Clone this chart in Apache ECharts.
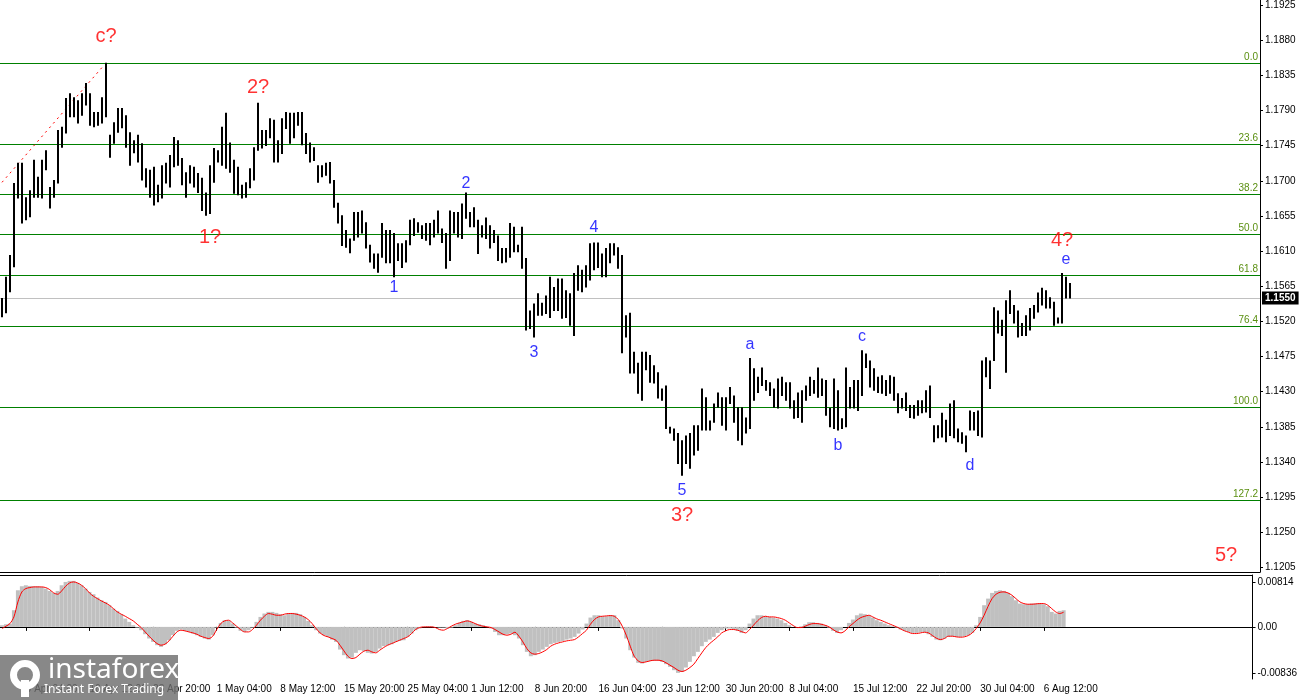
<!DOCTYPE html>
<html><head><meta charset="utf-8">
<script src="https://cdn.jsdelivr.net/npm/echarts@6/dist/echarts.min.js"></script>
<style>html,body{margin:0;padding:0;background:#fff}#c{width:1300px;height:700px}</style>
</head><body><div id="c"></div>
<script>
// ---- price bars (each bar: high / low) ----
const highs = [
1.1550,1.1577,1.1605,1.1697,1.1723,1.1723,1.1679,1.1688,1.1727,1.1705,
1.1727,1.1739,1.1692,1.1701,1.1765,1.1769,1.1806,1.1812,1.1807,1.1803,
1.1812,1.1825,1.1812,1.1788,1.1788,1.1807,1.1851,1.1759,1.1775,1.1793,
1.1793,1.1784,1.1762,1.1752,1.1759,1.1748,1.1716,1.1714,1.1718,1.1695,
1.1720,1.1723,1.1733,1.1756,1.1752,1.1729,1.1711,1.1720,1.1718,1.1710,
1.1704,1.1685,1.1720,1.1742,1.1739,1.1769,1.1787,1.1749,1.1727,1.1718,
1.1695,1.1698,1.1716,1.1743,1.1800,1.1765,1.1765,1.1780,1.1778,1.1752,
1.1780,1.1788,1.1787,1.1787,1.1788,1.1788,1.1761,1.1749,1.1743,1.1720,
1.1720,1.1723,1.1724,1.1701,1.1672,1.1656,1.1637,1.1626,1.1660,1.1660,
1.1662,1.1647,1.1618,1.1607,1.1607,1.1646,1.1637,1.1637,1.1633,1.1620,
1.1620,1.1624,1.1650,1.1652,1.1647,1.1643,1.1646,1.1646,1.1650,1.1662,
1.1639,1.1633,1.1662,1.1660,1.1660,1.1671,1.1685,1.1660,1.1666,1.1650,
1.1643,1.1653,1.1643,1.1637,1.1630,1.1614,1.1614,1.1646,1.1641,1.1618,
1.1641,1.1601,1.1534,1.1543,1.1556,1.1544,1.1553,1.1577,1.1564,1.1575,
1.1575,1.1560,1.1556,1.1582,1.1592,1.1586,1.1592,1.1620,1.1621,1.1621,
1.1607,1.1614,1.1620,1.1620,1.1615,1.1605,1.1528,1.1531,1.1481,1.1467,
1.1481,1.1481,1.1477,1.1464,1.1455,1.1434,1.1438,1.1385,1.1383,1.1377,
1.1368,1.1374,1.1377,1.1387,1.1387,1.1434,1.1423,1.1393,1.1415,1.1429,
1.1423,1.1423,1.1436,1.1425,1.1410,1.1410,1.1397,1.1473,1.1460,1.1449,
1.1461,1.1445,1.1442,1.1434,1.1447,1.1449,1.1442,1.1442,1.1419,1.1429,
1.1432,1.1438,1.1449,1.1445,1.1461,1.1447,1.1445,1.1409,1.1447,1.1432,
1.1396,1.1461,1.1436,1.1445,1.1445,1.1483,1.1479,1.1470,1.1460,1.1449,
1.1451,1.1445,1.1451,1.1449,1.1428,1.1422,1.1429,1.1413,1.1413,1.1419,
1.1419,1.1432,1.1438,1.1387,1.1387,1.1403,1.1394,1.1415,1.1419,1.1383,
1.1378,1.1374,1.1406,1.1404,1.1406,1.1470,1.1474,1.1470,1.1538,1.1534,
1.1522,1.1547,1.1560,1.1541,1.1534,1.1518,1.1528,1.1537,1.1541,1.1557,
1.1563,1.1560,1.1551,1.1545,1.1525,1.1582,1.1577,1.1569
];
const lows = [
1.1526,1.1531,1.1558,1.1590,1.1678,1.1646,1.1650,1.1654,1.1679,1.1679,
1.1678,1.1714,1.1665,1.1679,1.1697,1.1743,1.1761,1.1782,1.1782,1.1774,
1.1784,1.1797,1.1771,1.1769,1.1771,1.1774,1.1782,1.1730,1.1748,1.1762,
1.1768,1.1743,1.1720,1.1736,1.1724,1.1701,1.1692,1.1679,1.1669,1.1673,
1.1678,1.1697,1.1692,1.1718,1.1720,1.1695,1.1679,1.1697,1.1692,1.1685,
1.1662,1.1656,1.1658,1.1698,1.1724,1.1720,1.1716,1.1711,1.1684,1.1682,
1.1678,1.1679,1.1691,1.1701,1.1739,1.1742,1.1745,1.1755,1.1724,1.1724,
1.1735,1.1767,1.1748,1.1755,1.1771,1.1746,1.1735,1.1724,1.1726,1.1698,
1.1705,1.1707,1.1697,1.1666,1.1646,1.1617,1.1615,1.1608,1.1624,1.1628,
1.1633,1.1614,1.1596,1.1588,1.1583,1.1602,1.1595,1.1595,1.1577,1.1598,
1.1589,1.1596,1.1618,1.1630,1.1634,1.1626,1.1624,1.1618,1.1628,1.1633,
1.1621,1.1588,1.1598,1.1633,1.1628,1.1626,1.1652,1.1641,1.1641,1.1607,
1.1628,1.1626,1.1614,1.1621,1.1598,1.1595,1.1596,1.1602,1.1609,1.1609,
1.1588,1.1509,1.1511,1.1500,1.1528,1.1528,1.1530,1.1525,1.1534,1.1534,
1.1524,1.1525,1.1515,1.1502,1.1560,1.1558,1.1564,1.1573,1.1586,1.1589,
1.1577,1.1577,1.1595,1.1605,1.1588,1.1480,1.1500,1.1454,1.1454,1.1428,
1.1419,1.1458,1.1442,1.1441,1.1422,1.1419,1.1383,1.1377,1.1368,1.1338,
1.1323,1.1338,1.1332,1.1349,1.1355,1.1381,1.1381,1.1381,1.1391,1.1410,
1.1387,1.1381,1.1415,1.1391,1.1368,1.1362,1.1377,1.1383,1.1419,1.1429,
1.1438,1.1432,1.1425,1.1410,1.1409,1.1425,1.1419,1.1409,1.1396,1.1397,
1.1391,1.1419,1.1425,1.1428,1.1423,1.1425,1.1400,1.1385,1.1383,1.1381,
1.1383,1.1385,1.1409,1.1409,1.1406,1.1425,1.1461,1.1436,1.1432,1.1429,
1.1428,1.1425,1.1428,1.1419,1.1403,1.1409,1.1406,1.1397,1.1396,1.1400,
1.1403,1.1404,1.1397,1.1366,1.1371,1.1372,1.1366,1.1374,1.1371,1.1366,
1.1364,1.1353,1.1381,1.1381,1.1374,1.1372,1.1449,1.1434,1.1470,1.1505,
1.1502,1.1455,1.1530,1.1518,1.1500,1.1502,1.1502,1.1509,1.1524,1.1532,
1.1541,1.1537,1.1537,1.1515,1.1518,1.1518,1.1550,1.1550
];
// ---- MACD sub-window ----
const macdHist = [
0.00030,0.00048,0.00060,0.00302,0.00664,0.00737,0.00755,0.00743,0.00737,0.00737,
0.00725,0.00695,0.00652,0.00616,0.00652,0.00755,0.00815,0.00834,0.00834,0.00797,
0.00755,0.00695,0.00634,0.00592,0.00532,0.00483,0.00453,0.00393,0.00332,0.00290,
0.00230,0.00151,0.00091,0.00030,-0.00012,-0.00060,-0.00133,-0.00211,-0.00272,-0.00332,
-0.00362,-0.00314,-0.00242,-0.00151,-0.00072,-0.00048,-0.00072,-0.00091,-0.00121,-0.00151,
-0.00181,-0.00211,-0.00230,-0.00151,-0.00012,0.00072,0.00121,0.00109,0.00060,-0.00012,
-0.00072,-0.00091,-0.00060,-0.00012,0.00091,0.00181,0.00242,0.00272,0.00272,0.00254,
0.00230,0.00211,0.00242,0.00254,0.00254,0.00230,0.00181,0.00109,0.00030,-0.00060,
-0.00121,-0.00151,-0.00181,-0.00230,-0.00272,-0.00411,-0.00513,-0.00574,-0.00556,-0.00471,
-0.00423,-0.00435,-0.00471,-0.00483,-0.00453,-0.00393,-0.00350,-0.00332,-0.00314,-0.00272,
-0.00254,-0.00242,-0.00181,-0.00121,-0.00060,-0.00030,0.00000,0.00012,0.00012,0.00000,
-0.00012,-0.00012,-0.00030,-0.00012,0.00030,0.00072,0.00109,0.00121,0.00091,0.00060,
0.00048,0.00030,0.00000,-0.00030,-0.00091,-0.00151,-0.00151,-0.00133,-0.00121,-0.00151,
-0.00211,-0.00332,-0.00453,-0.00532,-0.00513,-0.00453,-0.00411,-0.00362,-0.00314,-0.00290,
-0.00272,-0.00254,-0.00230,-0.00211,-0.00181,-0.00121,-0.00048,0.00060,0.00169,0.00211,
0.00211,0.00193,0.00193,0.00211,0.00211,0.00121,-0.00030,-0.00211,-0.00423,-0.00556,
-0.00652,-0.00664,-0.00634,-0.00616,-0.00616,-0.00616,-0.00634,-0.00676,-0.00725,-0.00785,
-0.00834,-0.00815,-0.00737,-0.00634,-0.00532,-0.00453,-0.00350,-0.00272,-0.00230,-0.00181,
-0.00109,-0.00060,-0.00030,-0.00030,-0.00048,-0.00072,-0.00109,-0.00060,0.00060,0.00151,
0.00211,0.00211,0.00193,0.00181,0.00169,0.00151,0.00121,0.00072,0.00030,0.00000,
0.00000,0.00012,0.00048,0.00085,0.00085,0.00072,0.00060,0.00030,-0.00012,-0.00072,
-0.00109,-0.00060,0.00000,0.00072,0.00133,0.00211,0.00242,0.00230,0.00211,0.00169,
0.00121,0.00091,0.00060,0.00030,0.00012,-0.00012,-0.00048,-0.00072,-0.00091,-0.00109,
-0.00109,-0.00097,-0.00097,-0.00133,-0.00181,-0.00230,-0.00242,-0.00211,-0.00181,-0.00169,
-0.00181,-0.00181,-0.00169,-0.00151,-0.00109,0.00030,0.00181,0.00393,0.00513,0.00616,
0.00652,0.00664,0.00652,0.00616,0.00556,0.00483,0.00423,0.00411,0.00411,0.00423,
0.00423,0.00423,0.00411,0.00374,0.00272,0.00242,0.00290,0.00302
];
const macdSignal = [
-0.00030,0.00012,0.00060,0.00181,0.00453,0.00634,0.00695,0.00713,0.00725,0.00725,
0.00725,0.00713,0.00676,0.00616,0.00592,0.00652,0.00737,0.00797,0.00815,0.00797,
0.00755,0.00695,0.00616,0.00556,0.00513,0.00471,0.00435,0.00393,0.00332,0.00272,
0.00230,0.00193,0.00151,0.00109,0.00048,-0.00012,-0.00091,-0.00169,-0.00242,-0.00302,
-0.00332,-0.00314,-0.00254,-0.00169,-0.00091,-0.00060,-0.00072,-0.00091,-0.00109,-0.00133,
-0.00169,-0.00193,-0.00211,-0.00169,-0.00048,0.00060,0.00109,0.00121,0.00072,0.00012,
-0.00048,-0.00091,-0.00091,-0.00048,0.00030,0.00121,0.00193,0.00242,0.00230,0.00211,
0.00211,0.00230,0.00242,0.00242,0.00230,0.00211,0.00181,0.00133,0.00060,-0.00030,
-0.00109,-0.00157,-0.00181,-0.00211,-0.00242,-0.00332,-0.00435,-0.00532,-0.00574,-0.00556,
-0.00495,-0.00441,-0.00423,-0.00453,-0.00471,-0.00423,-0.00374,-0.00332,-0.00302,-0.00272,
-0.00242,-0.00211,-0.00181,-0.00121,-0.00048,-0.00012,0.00000,0.00000,0.00000,-0.00012,
-0.00048,-0.00060,-0.00030,0.00012,0.00048,0.00072,0.00091,0.00109,0.00091,0.00060,
0.00030,0.00012,0.00000,-0.00012,-0.00048,-0.00091,-0.00133,-0.00151,-0.00133,-0.00097,
-0.00169,-0.00272,-0.00393,-0.00471,-0.00495,-0.00483,-0.00453,-0.00411,-0.00350,-0.00314,
-0.00290,-0.00272,-0.00254,-0.00242,-0.00230,-0.00181,-0.00121,-0.00060,0.00048,0.00133,
0.00181,0.00193,0.00199,0.00205,0.00193,0.00133,0.00012,-0.00151,-0.00350,-0.00532,
-0.00616,-0.00646,-0.00634,-0.00616,-0.00604,-0.00604,-0.00616,-0.00652,-0.00695,-0.00737,
-0.00785,-0.00809,-0.00785,-0.00737,-0.00676,-0.00574,-0.00471,-0.00374,-0.00302,-0.00242,
-0.00181,-0.00109,-0.00072,-0.00048,-0.00048,-0.00060,-0.00085,-0.00109,-0.00048,0.00030,
0.00109,0.00169,0.00193,0.00181,0.00181,0.00169,0.00151,0.00121,0.00072,0.00024,
-0.00012,-0.00012,0.00012,0.00042,0.00060,0.00060,0.00048,0.00030,0.00000,-0.00048,
-0.00091,-0.00109,-0.00072,0.00000,0.00060,0.00121,0.00169,0.00193,0.00211,0.00181,
0.00145,0.00121,0.00091,0.00060,0.00030,0.00000,-0.00036,-0.00072,-0.00097,-0.00121,
-0.00121,-0.00109,-0.00097,-0.00109,-0.00157,-0.00205,-0.00230,-0.00211,-0.00169,-0.00169,
-0.00181,-0.00187,-0.00181,-0.00157,-0.00109,-0.00030,0.00072,0.00211,0.00374,0.00513,
0.00592,0.00628,0.00634,0.00616,0.00574,0.00513,0.00453,0.00423,0.00411,0.00411,
0.00417,0.00423,0.00423,0.00393,0.00332,0.00272,0.00242,0.00266
];
// ---- levels, ticks, labels ----
const fibLevels = [
  {name:'0.0', value:1.1851},{name:'23.6', value:1.1747},{name:'38.2', value:1.1683},
  {name:'50.0', value:1.1631},{name:'61.8', value:1.1579},{name:'76.4', value:1.1514},
  {name:'100.0', value:1.1410},{name:'127.2', value:1.1291}
];
const currentPrice = 1.1550;
const priceTicks = [1.1205,1.1250,1.1295,1.1340,1.1385,1.1430,1.1475,1.1520,1.1565,1.1610,1.1655,1.1700,1.1745,1.1790,1.1835,1.1880,1.1925];
const macdTicks = [0.00814, 0, -0.00836];
const timeLabels = ['9 Apr 04:00','16 Apr 12:00','23 Apr 20:00','1 May 04:00','8 May 12:00','15 May 20:00','25 May 04:00','1 Jun 12:00','8 Jun 20:00','16 Jun 04:00','23 Jun 12:00','30 Jun 20:00','8 Jul 04:00','15 Jul 12:00','22 Jul 20:00','30 Jul 04:00','6 Aug 12:00'];
const timeLabelIndex = [6,22,38,54,70,86,102,118,134,150,166,182,198,214,230,246,262];
const trendLine = [[0,1.1698],[25,1.1845]];
const redLabels = [['c?',26,1.1885],['2?',64,1.1819],['1?',51.5,1.1628],['3?',170,1.1272],['4?',265,1.1623],['5?',306,1.1220]];
const blueLabels = [['1',98,1.1563],['2',116,1.1697],['3',133,1.1480],['4',148,1.1640],['5',170,1.1304],['a',187,1.1490],['b',209,1.1361],['c',215,1.1500],['d',242,1.1335],['e',265.5,1.1599]];

const N = 315;
const categories = Array.from({length:N}, (_, i) => String(i));
const labelMap = {};
timeLabelIndex.forEach((idx, j) => { labelMap[idx] = timeLabels[j]; });

const chart = echarts.init(document.getElementById('c'), null, {renderer:'canvas'});
const font = 'Liberation Sans, Arial, sans-serif';

chart.setOption({
  animation: false,
  backgroundColor: '#fff',
  grid: [
    {left:0, right:40, top:0, height:572, show:false},
    {left:0, right:40, top:575, height:104, show:false}
  ],
  xAxis: [
    {type:'category', gridIndex:0, data:categories, boundaryGap:true,
     axisLine:{show:true, lineStyle:{color:'#000'}}, axisTick:{show:false}, axisLabel:{show:false}, splitLine:{show:false}},
    {type:'category', gridIndex:1, data:categories, boundaryGap:true,
     axisLine:{show:true, lineStyle:{color:'#000'}},
     axisTick:{show:true, alignWithLabel:true, length:4, lineStyle:{color:'#000'}, interval:(i)=>labelMap[i]!==undefined},
     axisLabel:{show:true, interval:(i)=>labelMap[i]!==undefined, formatter:(v,i)=>labelMap[i]||'', align:'left', margin:5,
       color:'#000', fontSize:10, fontFamily:font, hideOverlap:false},
     splitLine:{show:false}},
    {type:'category', gridIndex:1, position:'top', data:categories, boundaryGap:true,
     axisLine:{show:true, lineStyle:{color:'#000'}}, axisTick:{show:false}, axisLabel:{show:false}, splitLine:{show:false}}
  ],
  yAxis: [
    {type:'value', gridIndex:0, position:'right', min:1.11992, max:1.19314, scale:true,
     axisLine:{show:true, lineStyle:{color:'#000'}},
     axisTick:{show:true, length:3, customValues:priceTicks, lineStyle:{color:'#000'}},
     axisLabel:{show:true, customValues:priceTicks, formatter:(v)=>v.toFixed(4), color:'#000', fontSize:10, fontFamily:font, margin:5},
     splitLine:{show:false}},
    {type:'value', gridIndex:1, position:'right', min:-0.00945, max:0.00941, scale:true,
     axisLine:{show:true, lineStyle:{color:'#000'}},
     axisTick:{show:true, length:3, customValues:macdTicks, lineStyle:{color:'#000'}},
     axisLabel:{show:true, customValues:macdTicks, formatter:(v)=> v===0 ? '0.00' : v.toFixed(5), color:'#000', fontSize:10, fontFamily:font, margin:5},
     splitLine:{show:false}}
  ],
  series: [
    {
      type:'line', xAxisIndex:0, yAxisIndex:0, data:trendLine, symbol:'none', z:3,
      lineStyle:{color:'#ff0000', width:1, type:[2,4]},
      markLine:{
        silent:true, symbol:['none','none'], animation:false, z:1, precision:5,
        lineStyle:{color:'#008000', width:1.2, type:'solid'},
        label:{position:'insideEndTop', color:'#5a8f10', fontSize:10, fontFamily:font, distance:[2,1]},
        data: fibLevels.map(f => ({yAxis:f.value, label:{formatter:f.name}})).concat([
          {yAxis:currentPrice, lineStyle:{color:'#c0c0c0', width:1}, label:{position:'end', formatter:currentPrice.toFixed(4),
            color:'#fff', backgroundColor:'#000', padding:[2,3,1,3], fontSize:10, fontFamily:font, fontWeight:'bold', distance:2}}
        ])
      }
    },
    {
      type:'custom', xAxisIndex:0, yAxisIndex:0, z:4,
      data: highs.map((h, i) => [i, lows[i], h]),
      encode:{x:0, y:[1,2]},
      renderItem: function(params, api){
        const i = api.value(0);
        const top = api.coord([i, api.value(2)]);
        const bot = api.coord([i, api.value(1)]);
        return {type:'line', shape:{x1:top[0], y1:top[1], x2:bot[0], y2:bot[1]+0.5},
          style:{stroke:'#000', lineWidth:2}};
      }
    },
    {
      type:'scatter', xAxisIndex:0, yAxisIndex:0, symbolSize:0, z:6,
      data: redLabels.map(l => ({name:l[0], value:[l[1], l[2]]})),
      label:{show:true, position:'inside', formatter:'{b}', color:'#ff0000', fontSize:20, fontFamily:font}
    },
    {
      type:'scatter', xAxisIndex:0, yAxisIndex:0, symbolSize:0, z:6,
      data: blueLabels.map(l => ({name:l[0], value:[l[1], l[2]]})),
      label:{show:true, position:'inside', formatter:'{b}', color:'#0000ff', fontSize:16, fontFamily:font}
    },
    {
      type:'bar', xAxisIndex:1, yAxisIndex:1, data:macdHist, barCategoryGap:'0%', barWidth:'100%',
      itemStyle:{color:'#c0c0c0'}, z:2
    },
    {
      type:'line', xAxisIndex:1, yAxisIndex:1, data:macdSignal, symbol:'none', smooth:0.3, z:3,
      lineStyle:{color:'#ff0000', width:1}
    }
  ],
  graphic: [
    {type:'rect', left:0, top:655, z:100, shape:{width:178, height:45}, style:{fill:'rgba(110,110,110,0.82)'}},
    {type:'ring', z:101, shape:{cx:25, cy:675, r:15, r0:8}, style:{fill:'#fff'}},
    {type:'rect', z:101, shape:{x:21, y:680, width:8, height:17}, style:{fill:'#fff'}},
    {type:'text', z:101, left:48, top:656, style:{text:'instaforex', fill:'#fff', font:'28px "Noto Sans", sans-serif'}},
    {type:'text', z:101, left:44, top:684, style:{text:'Instant Forex Trading', fill:'#fff', font:'12px "Noto Sans", sans-serif'}}
  ]
});
</script>
</body></html>
